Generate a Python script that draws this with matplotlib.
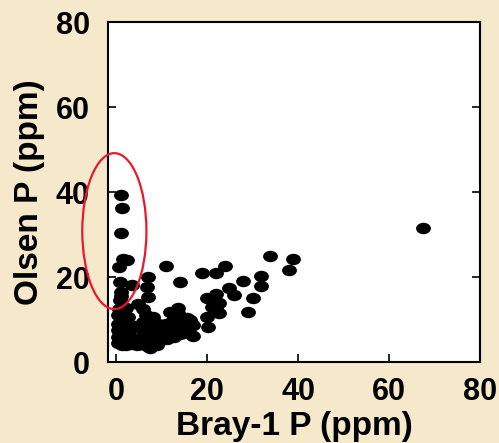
import matplotlib
matplotlib.use("Agg")
import matplotlib.pyplot as plt
from matplotlib.path import Path
from matplotlib.transforms import Affine2D
from matplotlib.patches import Ellipse

# Data: Bray-1 P (x) vs Olsen P (y), ppm
bray = [67.5, 1.0, 1.25, 1.0, 1.6, 2.3, 0.7, 0.9, 3.4, 1.0,
        7.1, 6.7, 7.1, 4.7, 11.0, 14.1, 18.8, 22.0, 24.0, 33.8,
        38.8, 37.9, 27.8, 31.9, 31.9, 24.9, 25.8, 30.0, 28.9, 19.9,
        22.0, 22.5, 19.9, 22.5, 20.1, 13.7, 11.9, 16.3, 17.0, 14.6,
        0.3, 1.2, 0.5, 1.3, 0.4, 1.5, 0.5, 1.4, 0.5, 1.5, 0.6, 2.2, 2.5, 2.8, 2.5,
        2.2, 3.3, 4.5, 5.5, 6.5, 7.5, 8.5, 9.5, 10.5,
        6.0, 6.5, 5.8, 7.5, 6.0, 7.5, 8.5, 6.5, 8.5, 9.5, 10.5, 11.0, 9.5,
        12.5, 13.5, 12.6, 15.5, 13.3, 12.0, 13.0, 14.5, 15.5, 11.5, 12.0, 14.0, 16.9,
        0.8, 2.0, 3.0, 1.8, 3.8, 4.2, 5.0, 6.8, 8.0, 9.0, 10.0, 7.0, 8.2, 9.2,
        11.2, 12.8, 14.0, 16.0, 13.8, 22.0, 21.0, 1.0, 2.0, 3.5]
olsen = [31.6, 39.3, 36.2, 30.3, 24.2, 24.0, 22.3, 18.9, 18.1, 15.5,
         19.9, 17.6, 15.2, 13.7, 22.6, 18.9, 20.9, 20.9, 22.7, 24.9,
         24.2, 21.6, 19.1, 20.3, 17.9, 17.3, 15.8, 15.0, 11.8, 15.1,
         15.9, 13.8, 10.7, 11.5, 8.3, 12.6, 11.8, 9.9, 6.1, 6.8,
         4.5, 4.0, 6.0, 6.5, 7.5, 8.0, 9.0, 9.8, 11.0, 11.5, 12.5, 12.8, 10.5, 7.0, 5.0,
         4.0, 4.2, 4.0, 4.3, 4.5, 3.3, 4.5, 5.0, 5.5,
         12.5, 11.0, 9.5, 9.0, 7.5, 7.0, 8.0, 6.0, 6.0, 7.5, 8.0, 9.0, 6.2,
         10.0, 11.5, 11.5, 10.4, 9.5, 8.5, 7.5, 8.5, 8.0, 7.5, 6.5, 6.5, 8.8,
         14.5, 9.0, 6.0, 5.5, 5.0, 8.5, 5.5, 3.8, 5.5, 4.0, 6.5, 10.0, 10.5, 9.0,
         5.5, 5.8, 9.5, 7.0, 10.8, 12.5, 13.0, 16.5, 6.0, 4.5]

xticks = [0, 20, 40, 60, 80]
yticks = [0, 20, 40, 60, 80]

plt.rcParams['font.family'] = ['Liberation Sans', 'DejaVu Sans']
plt.rcParams['font.weight'] = 'bold'

fig = plt.figure(figsize=(4.99, 4.43), dpi=100)
fig.patch.set_facecolor('#F6E8CB')
ax = fig.add_axes([0.2164, 0.1828, 0.962 - 0.2164, 0.9503 - 0.1828])
ax.set_facecolor('white')

ell_marker = Path.unit_circle().transformed(Affine2D().scale(1.3, 1.0))
ax.plot(bray, olsen, linestyle='none', marker=ell_marker, markersize=10.7,
        color='black', markeredgewidth=0)

ax.add_patch(Ellipse((-0.4, 30.8), width=14.1, height=36.7, fill=False,
                     edgecolor='#E8182E', linewidth=1.6, clip_on=False, zorder=5))

ax.set_xlim(-1.8, 80)
ax.set_ylim(0, 80)
ax.set_xticks(xticks)
ax.set_yticks(yticks)
ax.tick_params(direction='in', length=5.5, width=1.2, labelsize=22,
               top=False, right=True, pad=11)
ax.tick_params(axis='y', pad=13)
for lab in ax.get_xticklabels() + ax.get_yticklabels():
    lab.set_fontweight('bold')
for s in ax.spines.values():
    s.set_linewidth(1.5)

ax.set_xlabel('Bray-1 P (ppm)', fontsize=24, fontweight='bold', labelpad=3)
ax.set_ylabel('Olsen P (ppm)', fontsize=24, fontweight='bold', labelpad=8)

fig.savefig('out.png', dpi=100, facecolor=fig.get_facecolor())
